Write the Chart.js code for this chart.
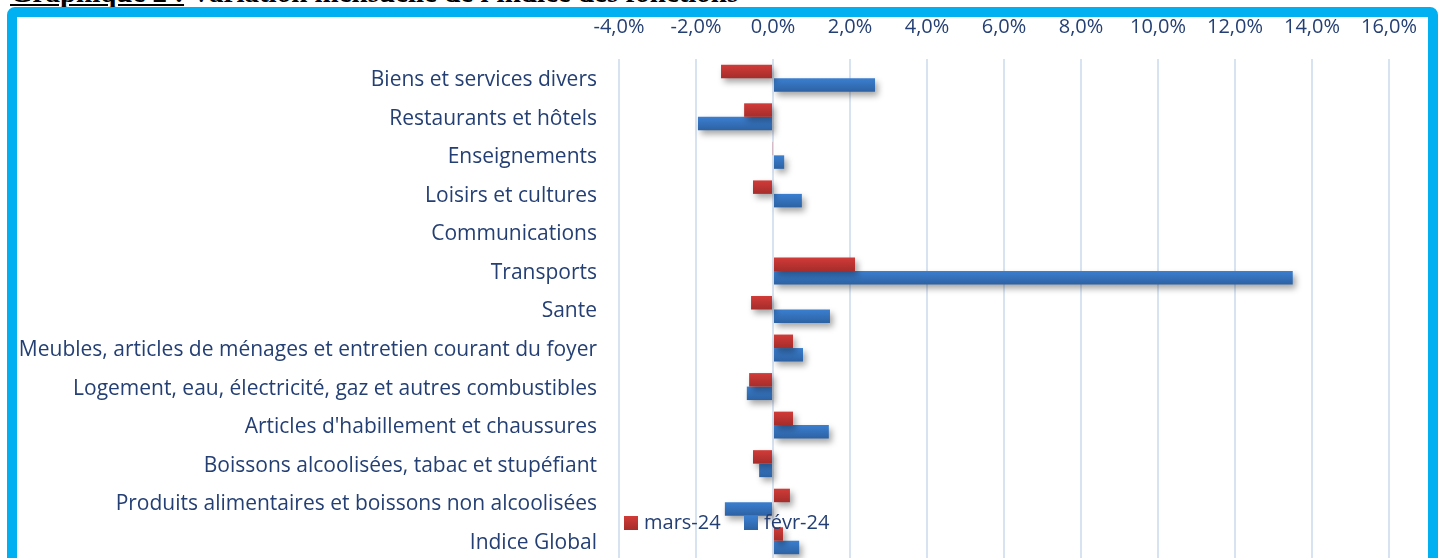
<!DOCTYPE html>
<html>
<head>
<meta charset="utf-8">
<script src="https://cdn.jsdelivr.net/npm/chart.js@4.4.1/dist/chart.umd.min.js"></script>
<style>
  html, body { margin: 0; padding: 0; background: #fff; }
  #wrap { position: relative; width: 1443px; height: 558px; overflow: hidden; background: #fff; }
  #titre { position: absolute; left: 10px; top: -24px; font: bold 29px "Liberation Serif", "Times New Roman", serif; color: #000; white-space: nowrap; line-height: 33px; }
  #titre u { text-decoration: underline; }
  #cadre { position: absolute; left: 7px; top: 7px; width: 1411px; height: 580px; border: 10px solid #00b0f0; border-radius: 8px; pointer-events: none; }
  #zone { position: absolute; left: 0; top: 0; width: 1443px; height: 560px; }
</style>
</head>
<body>
<div id="wrap">
  <div id="titre"><u>Graphique 2 :</u> Variation mensuelle de l'indice des fonctions</div>
  <div id="zone"><canvas id="graphFonctions" width="1443" height="560"></canvas></div>
  <div id="cadre"></div>
</div>
<script>
// categories (du haut vers le bas)
var categories = [
  'Biens et services divers',
  'Restaurants et hôtels',
  'Enseignements',
  'Loisirs et cultures',
  'Communications',
  'Transports',
  'Sante',
  'Meubles, articles de ménages et entretien courant du foyer',
  'Logement, eau, électricité, gaz et autres combustibles',
  "Articles d'habillement et chaussures",
  'Boissons alcoolisées, tabac et stupéfiant',
  'Produits alimentaires et boissons non alcoolisées',
  'Indice Global'
];
// variations en %
var mars24 = [-1.35, -0.75, -0.02, -0.52, 0, 2.13, -0.57, 0.52, -0.62, 0.52, -0.52, 0.44, 0.26];
var fevr24 = [2.65, -1.95, 0.29, 0.75, 0, 13.5, 1.48, 0.78, -0.68, 1.45, -0.36, -1.25, 0.68];
var ticksX = [-4, -2, 0, 2, 4, 6, 8, 10, 12, 14, 16];

var couleurTexte = '#243f73';
var police = '"Open Sans", Lato, sans-serif';

function degrade(ctx, y0, y1, haut, bas) {
  var g = ctx.createLinearGradient(0, y0, 0, y1);
  g.addColorStop(0, haut);
  g.addColorStop(1, bas);
  return g;
}

function couleurBarre(haut, bas, rang) {
  return function(context) {
    var chart = context.chart;
    var y = chart.scales.y;
    if (!y || !chart.chartArea) return haut;
    var centre = y.getPixelForValue(context.dataIndex);
    var epais = (chart.chartArea.bottom - chart.chartArea.top) / categories.length * 0.35;
    var y0 = rang === 0 ? centre - epais : centre;
    return degrade(chart.ctx, y0, y0 + epais, haut, bas);
  };
}

// ombre portee sous les barres
var ombre = {
  id: 'ombre',
  beforeDatasetsDraw: function(chart) {
    var ctx = chart.ctx;
    ctx.save();
    ctx.shadowColor = 'rgba(0,0,0,0.35)';
    ctx.shadowBlur = 6;
    ctx.shadowOffsetX = 3;
    ctx.shadowOffsetY = 4;
  },
  afterDatasetsDraw: function(chart) {
    chart.ctx.restore();
  }
};

// legende dans la zone du graphique, en bas
var legendeBas = {
  id: 'legendeBas',
  afterDraw: function(chart) {
    var ctx = chart.ctx;
    var x = 624, yc = 523;
    ctx.save();
    ctx.font = '20px ' + police;
    ctx.textBaseline = 'middle';
    chart.data.datasets.forEach(function(ds, i) {
      var c = i === 0 ? ['#d13b38', '#a52d2b'] : ['#3b7fd0', '#2d62a3'];
      ctx.fillStyle = degrade(ctx, yc - 7, yc + 7, c[0], c[1]);
      ctx.fillRect(x, yc - 7, 14, 14);
      ctx.fillStyle = couleurTexte;
      ctx.fillText(ds.label, x + 20, yc);
      x += 120;
    });
    ctx.restore();
  }
};

var ctxF = document.getElementById('graphFonctions').getContext('2d');
var graphFonctions = new Chart(ctxF, {
  type: 'bar',
  data: {
    labels: categories,
    datasets: [{
      label: 'mars-24',
      data: mars24,
      backgroundColor: couleurBarre('#d13b38', '#a52d2b', 0),
      categoryPercentage: 0.7,
      barPercentage: 1.0
    }, {
      label: 'févr-24',
      data: fevr24,
      backgroundColor: couleurBarre('#3b7fd0', '#2d62a3', 1),
      categoryPercentage: 0.7,
      barPercentage: 1.0
    }]
  },
  options: {
    indexAxis: 'y',
    responsive: false,
    animation: false,
    layout: { padding: { left: 0, right: 54, top: 0, bottom: 0 } },
    plugins: { legend: { display: false }, tooltip: { enabled: false } },
    scales: {
      x: {
        position: 'top',
        min: -4,
        max: 16,
        afterBuildTicks: function(axis) {
          axis.ticks = ticksX.map(function(v) { return { value: v }; });
        },
        afterFit: function(axis) { axis.height = 59; axis.paddingLeft = 0; axis.paddingRight = 0; },
        grid: { color: '#d8e3f2', lineWidth: 2, drawTicks: false },
        border: { display: false },
        ticks: {
          color: couleurTexte,
          font: { family: police, size: 20 },
          padding: 20,
          maxRotation: 0,
          minRotation: 0,
          autoSkip: false,
          callback: function(v) { return v.toFixed(1).replace('.', ',') + '%'; }
        }
      },
      y: {
        afterFit: function(axis) { axis.width = 619; axis.paddingTop = 0; axis.paddingBottom = 0; },
        grid: { display: false, drawTicks: false },
        border: { display: false },
        ticks: {
          color: couleurTexte,
          font: { family: police, size: 21 },
          padding: 22,
          labelOffset: 2,
          autoSkip: false
        }
      }
    }
  },
  plugins: [ombre, legendeBas]
});
</script>
</body>
</html>
